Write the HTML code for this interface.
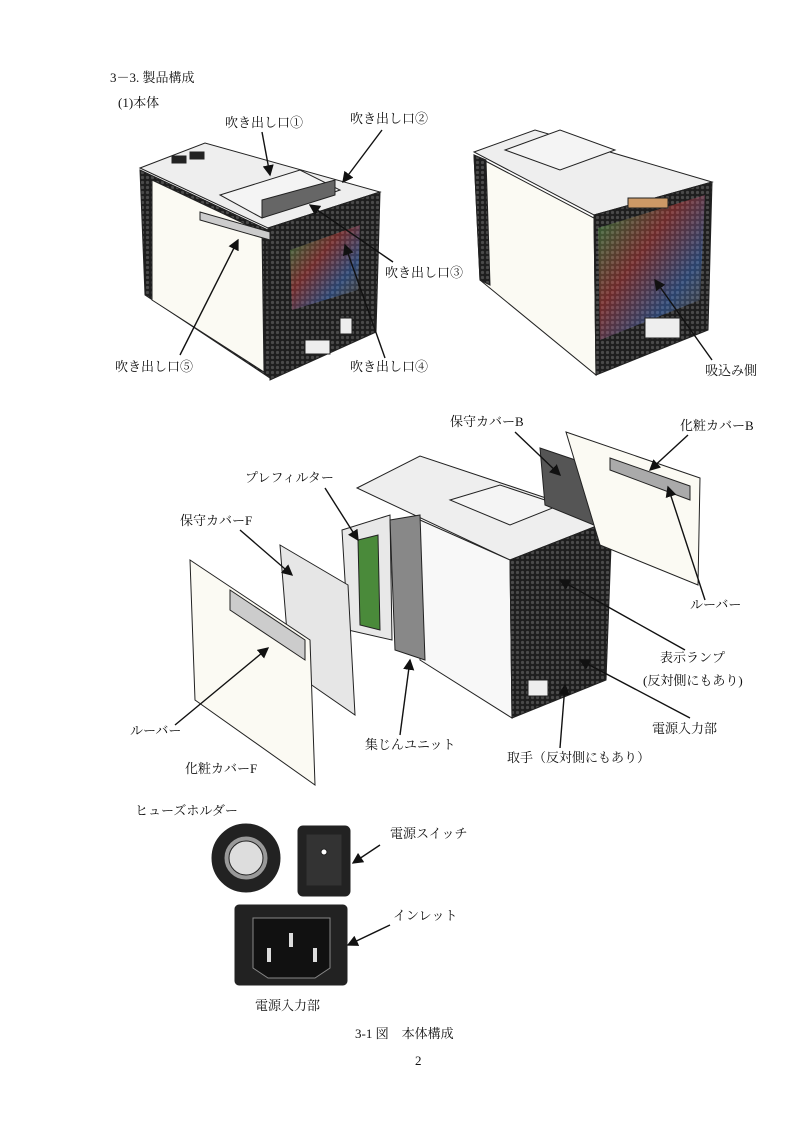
<!DOCTYPE html>
<html><head><meta charset="utf-8">
<style>
body{margin:0;background:#fff;}
.wrap{position:relative;width:800px;height:1131px;overflow:hidden;font-family:"Liberation Serif","Noto Serif CJK JP",serif;color:#111;}
.t{position:absolute;font-size:13px;white-space:nowrap;line-height:1;}
svg{position:absolute;left:0;top:0;}
</style></head><body><div class="wrap">
<svg width="800" height="1131" viewBox="0 0 800 1131">
<defs>
<pattern id="mesh" width="5" height="5" patternUnits="userSpaceOnUse">
<rect width="5" height="5" fill="#1e1e1e"/><circle cx="2.5" cy="2.5" r="1.6" fill="#4a4a4a"/>
</pattern>
<linearGradient id="rb" x1="0" y1="0" x2="1" y2="1">
<stop offset="0" stop-color="#3f6" stop-opacity=".35"/><stop offset=".4" stop-color="#f44" stop-opacity=".35"/><stop offset=".7" stop-color="#48f" stop-opacity=".35"/><stop offset="1" stop-color="#fff" stop-opacity="0"/>
</linearGradient>
<marker id="ar" markerWidth="8" markerHeight="8" refX="7" refY="4" orient="auto"><path d="M0,0 L8,4 L0,8z" fill="#111"/></marker>
</defs>
<g stroke="#222" stroke-width="1">
<polygon points="140,168 205,143 380,192 268,228" fill="#eee"/>
<polygon points="140,170 268,230 270,378 145,295" fill="url(#mesh)"/>
<polygon points="152,180 262,232 264,372 152,300" fill="#fbfaf3"/>
<polygon points="268,228 380,192 376,332 270,380" fill="url(#mesh)"/>
<polygon points="290,250 360,225 358,290 292,310" fill="url(#rb)" stroke="none"/>
<polygon points="220,195 300,170 340,190 262,218" fill="#f4f4f4"/>
<polygon points="262,200 335,180 335,195 262,218" fill="#666"/>
<polygon points="200,212 270,232 270,240 200,220" fill="#ccc"/>
<rect x="172" y="156" width="14" height="7" fill="#222"/><rect x="190" y="152" width="14" height="7" fill="#222"/>
<rect x="305" y="340" width="25" height="14" fill="#eee"/><rect x="340" y="318" width="12" height="16" fill="#eee"/>
<polygon points="474,152 535,130 712,182 594,215" fill="#eee"/>
<polygon points="474,155 594,218 596,375 480,280" fill="#fbfaf3"/>
<polygon points="474,155 486,160 490,285 480,280" fill="url(#mesh)"/>
<polygon points="594,215 712,182 708,330 596,375" fill="url(#mesh)"/>
<polygon points="598,228 705,195 700,300 600,340" fill="url(#rb)" stroke="none"/>
<polygon points="505,150 560,130 615,150 560,170" fill="#f4f4f4"/>
<rect x="628" y="198" width="40" height="10" fill="#c96"/>
<rect x="645" y="318" width="35" height="20" fill="#eee"/>
<polygon points="357,488 420,456 612,520 510,560" fill="#eee"/>
<polygon points="420,520 510,560 512,718 420,660" fill="#f8f8f8"/>
<polygon points="510,560 612,520 606,680 512,718" fill="url(#mesh)"/>
<polygon points="450,500 500,485 560,505 510,525" fill="#f4f4f4"/>
<polygon points="342,530 390,515 392,640 348,630" fill="#e8e8e8"/>
<polygon points="358,540 378,535 380,630 360,625" fill="#4a8a3a"/>
<polygon points="390,520 420,515 425,660 395,650" fill="#888"/>
<polygon points="280,545 348,585 355,715 290,670" fill="#e6e6e6"/>
<polygon points="190,560 310,640 315,785 195,700" fill="#fbfaf3"/>
<polygon points="230,590 305,640 305,660 230,610" fill="#ccc"/>
<polygon points="540,448 605,470 606,530 545,505" fill="#555"/>
<polygon points="566,432 700,478 698,585 600,545" fill="#fbfaf3"/>
<polygon points="610,458 690,486 690,500 610,470" fill="#aaa"/>
<rect x="528" y="680" width="20" height="16" fill="#eee"/>
<circle cx="246" cy="858" r="34" fill="#222"/>
<circle cx="246" cy="858" r="22" fill="#999"/>
<circle cx="246" cy="858" r="17" fill="#ddd"/>
<rect x="298" y="826" width="52" height="70" rx="5" fill="#222"/>
<rect x="306" y="834" width="36" height="52" fill="#333"/>
<circle cx="324" cy="852" r="3" fill="#fff"/>
<rect x="235" y="905" width="112" height="80" rx="4" fill="#222"/>
<polygon points="253,918 330,918 330,968 315,978 268,978 253,968" fill="#111" stroke="#888"/>
<rect x="267" y="948" width="4" height="14" fill="#ddd" stroke="none"/><rect x="289" y="933" width="4" height="14" fill="#ddd" stroke="none"/><rect x="313" y="948" width="4" height="14" fill="#ddd" stroke="none"/>
</g>
<g stroke="#111" stroke-width="1.4" fill="none" marker-end="url(#ar)">
<line x1="262" y1="132" x2="270" y2="175"/>
<line x1="382" y1="130" x2="343" y2="182"/>
<line x1="393" y1="262" x2="310" y2="205"/>
<line x1="385" y1="358" x2="345" y2="245"/>
<line x1="180" y1="355" x2="238" y2="240"/>
<line x1="712" y1="360" x2="655" y2="280"/>
<line x1="515" y1="432" x2="560" y2="475"/>
<line x1="688" y1="435" x2="650" y2="470"/>
<line x1="325" y1="488" x2="358" y2="540"/>
<line x1="240" y1="530" x2="292" y2="575"/>
<line x1="705" y1="600" x2="668" y2="487"/>
<line x1="685" y1="650" x2="560" y2="580"/>
<line x1="690" y1="718" x2="580" y2="660"/>
<line x1="175" y1="725" x2="268" y2="648"/>
<line x1="400" y1="735" x2="410" y2="660"/>
<line x1="560" y1="748" x2="565" y2="685"/>
<line x1="380" y1="845" x2="353" y2="863"/>
<line x1="390" y1="925" x2="348" y2="945"/>
</g>
</svg>
<div class="t" style="left:110px;top:71px">3－3. 製品構成</div>
<div class="t" style="left:118px;top:96px">(1)本体</div>
<div class="t" style="left:225px;top:116px">吹き出し口①</div>
<div class="t" style="left:350px;top:112px">吹き出し口②</div>
<div class="t" style="left:385px;top:266px">吹き出し口③</div>
<div class="t" style="left:350px;top:360px">吹き出し口④</div>
<div class="t" style="left:115px;top:360px">吹き出し口⑤</div>
<div class="t" style="left:705px;top:364px">吸込み側</div>
<div class="t" style="left:450px;top:415px">保守カバーB</div>
<div class="t" style="left:680px;top:419px">化粧カバーB</div>
<div class="t" style="left:245px;top:471px">プレフィルター</div>
<div class="t" style="left:180px;top:514px">保守カバーF</div>
<div class="t" style="left:690px;top:598px">ルーバー</div>
<div class="t" style="left:660px;top:651px">表示ランプ</div>
<div class="t" style="left:643px;top:674px">(反対側にもあり)</div>
<div class="t" style="left:652px;top:722px">電源入力部</div>
<div class="t" style="left:130px;top:724px">ルーバー</div>
<div class="t" style="left:365px;top:738px">集じんユニット</div>
<div class="t" style="left:507px;top:751px">取手（反対側にもあり）</div>
<div class="t" style="left:185px;top:762px">化粧カバーF</div>
<div class="t" style="left:135px;top:804px">ヒューズホルダー</div>
<div class="t" style="left:390px;top:827px">電源スイッチ</div>
<div class="t" style="left:393px;top:909px">インレット</div>
<div class="t" style="left:255px;top:999px">電源入力部</div>
<div class="t" style="left:355px;top:1027px">3-1 図　本体構成</div>
<div class="t" style="left:415px;top:1054px">2</div>
</div></body></html>
